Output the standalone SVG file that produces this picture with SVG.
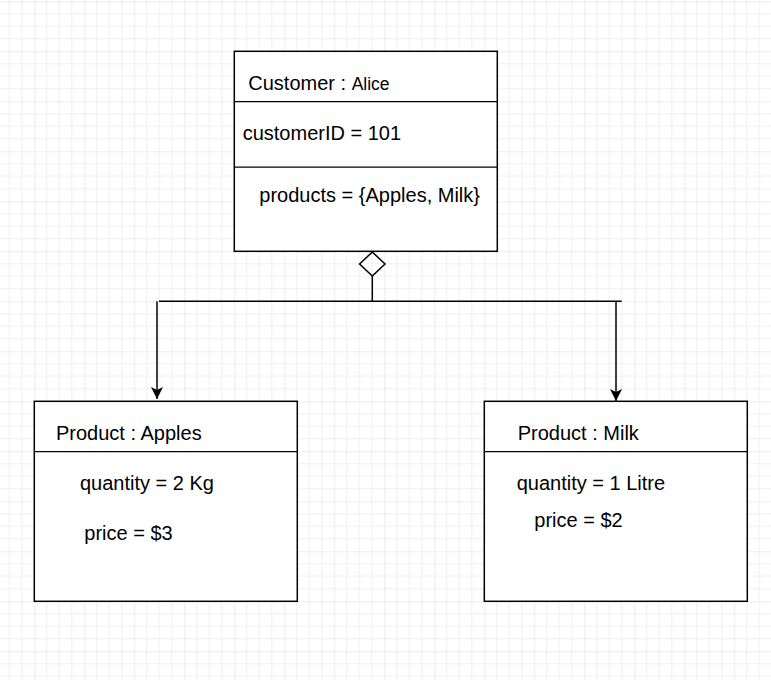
<svg xmlns="http://www.w3.org/2000/svg" width="771" height="680" viewBox="0 0 771 680">
  <defs>
    <pattern id="grid" x="34.3" y="1.3" width="50" height="50" patternUnits="userSpaceOnUse">
      <path d="M12.5 0V50M25 0V50M37.5 0V50M0 12.5H50M0 25H50M0 37.5H50" stroke="#efefef" stroke-width="1" fill="none"/>
      <path d="M0 0V50M0 0H50" stroke="#dcdcdc" stroke-width="1" fill="none"/>
    </pattern>
    <marker id="arrow" viewBox="0 0 12 12" refX="12" refY="6" markerWidth="12" markerHeight="12" markerUnits="userSpaceOnUse" orient="auto">
      <path d="M12 6L0 0L3 6L0 12Z" fill="#000"/>
    </marker>
    <style>
      .box { fill: #fff; stroke: #000; stroke-width: 1.5; }
      .div { stroke: #000; stroke-width: 1.25; fill: none; }
      .line { stroke: #000; stroke-width: 1.5; fill: none; }
      text { font-family: "Liberation Sans", Arial, sans-serif; font-size: 20px; fill: #000; }
      .small { font-size: 17.5px; }
    </style>
  </defs>
  <rect width="771" height="680" fill="#fff"/>
  <rect width="771" height="680" fill="url(#grid)"/>

  <g id="customer">
    <rect class="box" x="234.3" y="51.3" width="263" height="200"/>
    <line class="div" x1="234.3" y1="101.7" x2="497.3" y2="101.7"/>
    <line class="div" x1="234.3" y1="167" x2="497.3" y2="167"/>
    <text x="248.3" y="90">Customer : <tspan class="small">Alice</tspan></text>
    <text x="242.7" y="140">customerID = 101</text>
    <text x="259.3" y="202">products = {Apples, Milk}</text>
  </g>

  <g id="product-apples">
    <rect class="box" x="34.3" y="401.3" width="263" height="200"/>
    <line class="div" x1="34.3" y1="451.7" x2="297.3" y2="451.7"/>
    <text x="56" y="440">Product : Apples</text>
    <text x="80" y="490">quantity = 2 Kg</text>
    <text x="84.3" y="539.5">price = $3</text>
  </g>

  <g id="product-milk">
    <rect class="box" x="484.3" y="401.3" width="263" height="200"/>
    <line class="div" x1="484.3" y1="451.7" x2="747.3" y2="451.7"/>
    <text x="517.7" y="440">Product : Milk</text>
    <text x="516.7" y="490">quantity = 1 Litre</text>
    <text x="534.3" y="527">price = $2</text>
  </g>

  <g id="connectors">
    <path class="line" d="M372.3 252 L385 264 L372.3 276 L359.6 264 Z" fill="#fff"/>
    <line class="line" x1="372.3" y1="276" x2="372.3" y2="301.3"/>
    <line class="line" x1="159" y1="301.3" x2="621.7" y2="301.3"/>
    <line class="line" x1="157" y1="301.3" x2="157" y2="399" marker-end="url(#arrow)"/>
    <line class="line" x1="616" y1="301.3" x2="616" y2="401" marker-end="url(#arrow)"/>
  </g>
</svg>
